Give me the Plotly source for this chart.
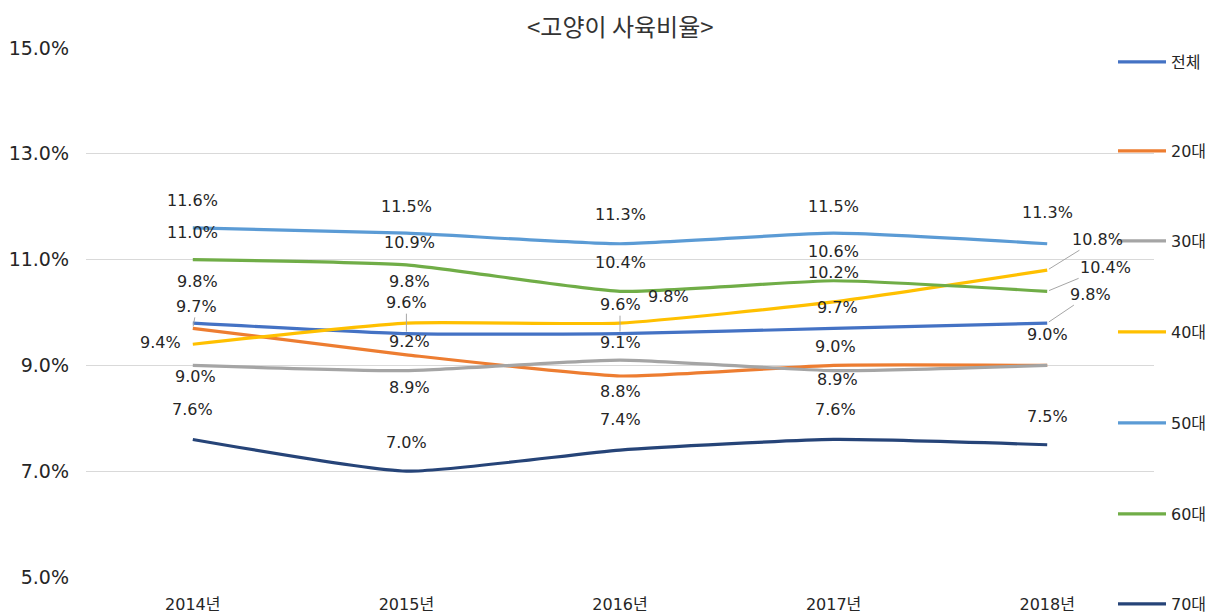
import plotly.graph_objects as go

years = ["2014년", "2015년", "2016년", "2017년", "2018년"]
series_names = ["전체", "20대", "30대", "40대", "50대", "60대", "70대"]
v_total = [9.8, 9.6, 9.6, 9.7, 9.8]
v_20 = [9.7, 9.2, 8.8, 9.0, 9.0]
v_30 = [9.0, 8.9, 9.1, 8.9, 9.0]
v_40 = [9.4, 9.8, 9.8, 10.2, 10.8]
v_50 = [11.6, 11.5, 11.3, 11.5, 11.3]
v_60 = [11.0, 10.9, 10.4, 10.6, 10.4]
v_70 = [7.6, 7.0, 7.4, 7.6, 7.5]
y_ticks = [5, 7, 9, 11, 13, 15]

values = [v_total, v_20, v_30, v_40, v_50, v_60, v_70]
colors = ["#4472C4", "#ED7D31", "#A5A5A5", "#FFC000", "#5B9BD5", "#70AD47", "#264478"]

# label offsets (dx, dy in px, leader flag) per series per year; None = no label
offsets = {
    "전체": [(5, -42, False), (0, -31, True), (0, -29, True), (4, -21, False), (43, -29, True)],
    "20대": [(4, -22, True), (3, -13, False), (0, 16, False), (2, -19, False), (0, -31, False)],
    "30대": [(3, 11, False), (3, 17, False), (0, -18, False), (4, 9, False), None],
    "40대": [(-32, -2, False), (3, -42, False), (48, -27, False), (0, -29, False), (50, -31, True)],
    "50대": [(0, -27, False), (0, -27, False), (0, -29, False), (0, -27, False), (0, -31, False)],
    "60대": [(0, -27, False), (3, -22, False), (0, -29, False), (0, -29, False), (58, -24, True)],
    "70대": [(0, -30, False), (0, -29, False), (0, -31, False), (2, -30, False), (0, -28, False)],
}

FONT = "DejaVu Sans, Noto Sans CJK KR, sans-serif"
TXT = "#262626"

# page has an 8px body margin; figure coords = page coords - 8
OFF = 8
W, H = 1226 - OFF, 616 - OFF
plot_top, plot_bot = 48 - OFF, 577 - OFF
plot_l, plot_r = 86 - OFF, 1154 - OFF
legend_px = [62, 151, 241, 332, 423, 514, 604]

fig = go.Figure()
for i, (name, vals, col) in enumerate(zip(series_names, values, colors)):
    lg = "legend" if i == 0 else f"legend{i+1}"
    fig.add_trace(go.Scatter(
        x=years, y=vals, name=name, mode="lines",
        line=dict(color=col, width=3.2, shape="spline", smoothing=0.5),
        legend=lg, hoverinfo="skip",
    ))
    ypaper = (plot_bot - (legend_px[i] - OFF)) / (plot_bot - plot_top)
    fig.update_layout({lg: dict(
        x=(1113 - OFF - plot_l) / (plot_r - plot_l), xanchor="left", y=ypaper, yanchor="middle",
        bgcolor="rgba(0,0,0,0)", font=dict(family=FONT, size=16, color=TXT),
        itemwidth=48, tracegroupgap=0,
    )})

annotations = []
for name, vals in zip(series_names, values):
    for j, (yr, v) in enumerate(zip(years, vals)):
        o = offsets[name][j]
        if o is None:
            continue
        dx, dy, leader = o
        txt = f"{v:.1f}%"
        if leader:
            annotations.append(dict(
                x=yr, y=v, xref="x", yref="y", text=txt, showarrow=True,
                ax=dx, ay=dy, arrowhead=0, arrowwidth=1, arrowcolor="#A6A6A6",
                standoff=2, font=dict(family=FONT, size=16, color=TXT),
            ))
        else:
            annotations.append(dict(
                x=yr, y=v, xref="x", yref="y", text=txt, showarrow=False,
                xshift=dx, yshift=-dy, font=dict(family=FONT, size=16, color=TXT),
            ))

annotations.append(dict(
    x=0.5, y=1, xref="paper", yref="paper", yanchor="middle", yshift=23,
    text="<고양이 사육비율>".replace("<", "&lt;").replace(">", "&gt;"),
    showarrow=False, font=dict(family="Noto Sans CJK KR", size=24, color="#333333"),
))

fig.update_layout(
    width=W, height=H,
    margin=dict(l=plot_l, r=W - plot_r, t=plot_top, b=H - plot_bot, autoexpand=False),
    paper_bgcolor="white", plot_bgcolor="white",
    showlegend=True,
    annotations=annotations,
    xaxis=dict(
        type="category", range=[-0.5, 4.5], showgrid=False, showline=False,
        ticks="", tickfont=dict(family=FONT, size=16, color=TXT), ticklabelstandoff=16,
    ),
    yaxis=dict(
        range=[5, 15], tickvals=y_ticks, ticktext=[f"{t:.1f}%" for t in y_ticks],
        showgrid=True, gridcolor="#D9D9D9", gridwidth=1, zeroline=False,
        showline=False, ticks="", tickfont=dict(family=FONT, size=19, color=TXT),
        ticklabelstandoff=16,
    ),
)

fig.write_html("out.html")
